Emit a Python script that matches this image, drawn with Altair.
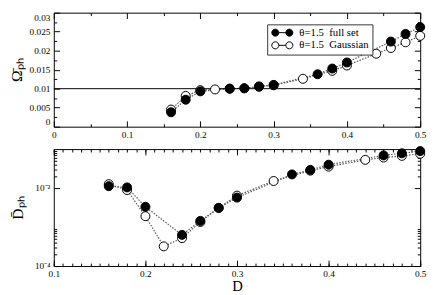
import altair as alt
import pandas as pd

# ---------------- data ----------------
SER_FULL = "θ=1.5\u00a0 full set"
SER_GAUSS = "θ=1.5\u00a0 Gaussian"

D_full = [0.16, 0.18, 0.20, 0.24, 0.26, 0.28, 0.30, 0.36, 0.38, 0.40, 0.46, 0.48, 0.50]
omega_full = [0.0038, 0.0071, 0.0093, 0.0100, 0.0101, 0.0106, 0.0110, 0.0138, 0.0153, 0.0169, 0.0224, 0.0244, 0.0262]
dph_full = [0.0112, 0.0104, 0.0033, 0.00063, 0.00144, 0.0031, 0.0057, 0.0224, 0.0293, 0.0398, 0.069, 0.078, 0.089]

D_gauss = [0.16, 0.18, 0.20, 0.22, 0.24, 0.26, 0.28, 0.30, 0.34, 0.38, 0.40, 0.44, 0.46, 0.48, 0.50]
omega_gauss = [0.0045, 0.0081, 0.0096, 0.0098, 0.0100, 0.0101, 0.0105, 0.0109, 0.0126, 0.0147, 0.0161, 0.0192, 0.0207, 0.0222, 0.0239]
dph_gauss = [0.0126, 0.0089, 0.0019, 0.00032, 0.00052, 0.00135, 0.0031, 0.0064, 0.0152, 0.028, 0.0355, 0.053, 0.0607, 0.067, 0.076]

omega_ref = 0.01

top_x_major = [0, 0.1, 0.2, 0.3, 0.4, 0.5]
top_x_minor = [0.05, 0.15, 0.25, 0.35, 0.45]
top_y_major = [0, 0.005, 0.01, 0.015, 0.02, 0.025, 0.03]
top_y_minor = [0.0025, 0.0075, 0.0125, 0.0175, 0.0225, 0.0275]
bot_x_major = [0.1, 0.2, 0.3, 0.4, 0.5]
bot_x_minor = [round(0.1 + 0.01 * i, 2) for i in range(41)]
bot_y_major = [1e-4, 1e-2]
bot_y_minor = [k * 1e-4 for k in range(2, 10)] + [k * 1e-2 for k in range(2, 10)]


def frame(d_g, v_g, d_f, v_f):
    a = pd.DataFrame({"D": d_g, "value": v_g, "series": SER_GAUSS})
    b = pd.DataFrame({"D": d_f, "value": v_f, "series": SER_FULL})
    return pd.concat([a, b], ignore_index=True)


df_top = frame(D_gauss, omega_gauss, D_full, omega_full)
df_bot = frame(D_gauss, dph_gauss, D_full, dph_full)

FONT = "Liberation Serif"
LEG_PATH = ("M -2.7,0 A 0.9,0.9 0 1,0 -0.9,0 A 0.9,0.9 0 1,0 -2.7,0 Z "
            "M 0.9,0 A 0.9,0.9 0 1,0 2.7,0 A 0.9,0.9 0 1,0 0.9,0 Z "
            "M -0.9,0 L 0.9,0")


def tick_layer(df, xs, ys, xv, yv, xo, yo, size):
    common = dict(tickSize=size, offset=-size, labels=False, domain=False, grid=False, title=None,
                  tickColor="black", tickWidth=1, minExtent=0, maxExtent=size)
    return alt.Chart(df).mark_point(opacity=0).encode(
        x=alt.X("D:Q", scale=xs, axis=alt.Axis(orient=xo, values=xv, **common)),
        y=alt.Y("value:Q", scale=ys, axis=alt.Axis(orient=yo, values=yv, **common)),
    )


def panel(df, xs, ys, xmaj, xmin, ymaj, ymin, xaxis_kw, yaxis_kw, height, legend, rule_value=None):
    lines = alt.Chart(df).mark_line(strokeDash=[1.5, 1.5], strokeWidth=1.2, color="#555").encode(
        x=alt.X("D:Q", scale=xs, axis=alt.Axis(orient="bottom", values=xmaj, ticks=False, domain=False,
                                                grid=False, labelFont=FONT, labelFontSize=9.5,
                                                labelColor="black", labelPadding=3, labelFlush=False,
                                                labelOverlap=False, minExtent=0, **xaxis_kw)),
        y=alt.Y("value:Q", scale=ys, axis=alt.Axis(orient="left", values=ymaj, ticks=False, domain=False,
                                                    grid=False, labelFont=FONT, labelFontSize=9.5,
                                                    labelColor="black", labelPadding=4,
                                                    labelOverlap=False, titleFontWeight="normal",
                                                    titleColor="black", minExtent=0, **yaxis_kw)),
        detail="series:N",
    )
    fill_scale = alt.Scale(domain=[SER_FULL, SER_GAUSS], range=["black", "white"])
    if legend:
        leg = alt.Legend(orient="none", legendX=219, legendY=12, title=None, strokeColor="#333",
                         fillColor="white", padding=3, labelFont=FONT, labelFontSize=11,
                         labelColor="black", symbolType=LEG_PATH, symbolSize=64,
                         symbolStrokeColor="black", symbolStrokeWidth=1, symbolOffset=7,
                         labelOffset=12, rowPadding=0)
    else:
        leg = None
    points = alt.Chart(df).mark_point(filled=True, size=85, stroke="black", strokeWidth=1, opacity=1).encode(
        x=alt.X("D:Q", scale=xs, axis=None),
        y=alt.Y("value:Q", scale=ys, axis=None),
        fill=alt.Fill("series:N", scale=fill_scale, legend=leg),
        order=alt.Order("order:Q"),
    ).transform_calculate(order=f"datum.series == '{SER_FULL}' ? 1 : 0")
    layers = [lines]
    if rule_value is not None:
        rule = alt.Chart(pd.DataFrame({"value": [rule_value]})).mark_rule(color="black", strokeWidth=1).encode(
            y=alt.Y("value:Q", scale=ys, axis=None))
        layers.append(rule)
    layers.append(points)
    layers += [
        tick_layer(df, xs, ys, xmaj, ymaj, "bottom", "left", 6),
        tick_layer(df, xs, ys, xmaj, ymaj, "top", "right", 6),
        tick_layer(df, xs, ys, xmin, ymin, "bottom", "left", 3),
        tick_layer(df, xs, ys, xmin, ymin, "top", "right", 3),
    ]
    return alt.layer(*layers).resolve_axis(x="independent", y="independent").properties(
        width=376, height=height)


top = panel(
    df_top,
    alt.Scale(domain=[0, 0.5], nice=False, zero=False),
    alt.Scale(domain=[0, 0.03], nice=False, zero=False),
    top_x_major, top_x_minor, top_y_major, top_y_minor,
    dict(title=None, format="~g"),
    dict(title="Ω̄ₚₕ", format="~g", titleFont=FONT, titleFontSize=16, titlePadding=5, labelFlush=True),
    117, True, omega_ref,
)

bot = panel(
    df_bot,
    alt.Scale(domain=[0.1, 0.5], nice=False, zero=False),
    alt.Scale(type="log", domain=[1e-4, 1e-1], nice=False),
    bot_x_major, bot_x_minor, bot_y_major, bot_y_minor,
    dict(title="D", format="~g", titleFont=FONT, titleFontSize=15, titleFontWeight="normal",
         titleColor="black", titlePadding=1),
    dict(title="D̄ₚₕ", titleFont=FONT, titleFontSize=16, titlePadding=9, labelFlush=False,
         labelExpr="datum.value < 0.001 ? '10⁻⁴' : '10⁻²'"),
    120, False,
)

chart = alt.vconcat(top, bot, spacing=23, bounds="flush").resolve_scale(fill="independent").resolve_legend(
    fill="independent").properties(
    padding={"top": 0, "left": 0, "right": 0, "bottom": 0}
).configure(padding={"top": 0, "left": 0, "right": 0, "bottom": 0}).configure_view(
    stroke="black", strokeWidth=1).configure_axis(grid=False)

chart.save("out.html", embed_options={"renderer": "svg", "actions": False})
